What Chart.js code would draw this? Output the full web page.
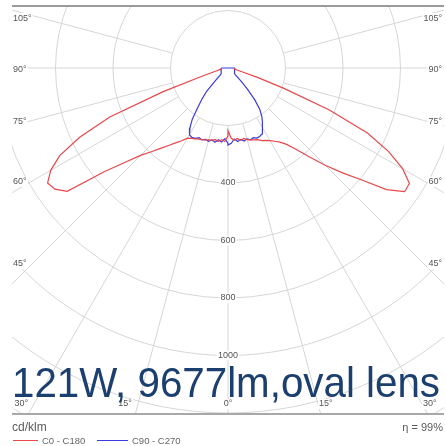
<!DOCTYPE html>
<html>
<head>
<meta charset="utf-8">
<script src="https://cdn.jsdelivr.net/npm/chart.js@4/dist/chart.umd.min.js"></script>
<style>
  html, body { margin: 0; padding: 0; background: #fff; }
  #wrap { width: 446px; height: 446px; position: relative; }
</style>
</head>
<body>
<div id="wrap"><canvas id="c" width="446" height="446"></canvas></div>
<script>
// Gamma angles in degrees from nadir at which the intensities are listed
const ANGLES = [0, 2.5, 5, 7.5, 10, 12.5, 15, 17.5, 20, 22.5, 25, 27.5, 30, 32.5, 35, 37.5, 40, 42.5, 45, 47.5,
                50, 52.5, 55, 57.5, 60, 62.5, 65, 67.5, 70, 72.5, 75, 77.5, 80, 82.5, 85, 87.5, 90];

// Luminous intensity, cd/klm, per C-plane
const C0   = [218, 244, 252, 247, 255, 251, 258, 262, 266, 270, 279, 284, 292, 302, 315, 335, 370, 420, 478, 540,
              605, 695, 750, 748, 702, 630, 535, 380, 205, 105, 50, 32, 27, 25, 24, 23, 22];
const C180 = [236, 256, 250, 258, 253, 257, 259, 262, 265, 268, 272, 276, 282, 300, 318, 340, 365, 395, 430, 485,
              560, 705, 735, 744, 712, 660, 568, 445, 240, 95, 50, 33, 28, 25, 24, 23, 22];
const C90  = [268, 262, 248, 258, 252, 260, 255, 262, 258, 264, 262, 258, 240, 222, 205, 182, 145, 100, 62, 35,
              30, 29, 28, 27, 27, 26, 26, 25, 25, 24, 24, 23, 23, 22, 22, 21, 21];
const C270 = [262, 246, 258, 252, 262, 256, 264, 260, 266, 262, 270, 272, 268, 246, 216, 172, 140, 110, 62, 36,
              31, 30, 29, 28, 27, 27, 26, 26, 25, 25, 25, 24, 24, 24, 24, 24, 24];

// Polar grid: rings (cd/klm) and spokes (degrees from nadir)
const RINGS = [200, 400, 600, 800, 1000, 1200, 1400];
const RING_TICKS = [400, 600, 800, 1000];
const SPOKES = [-105, -90, -75, -60, -45, -30, -15, 0, 15, 30, 45, 60, 75, 90, 105];

const TITLE = '121W, 9677lm,oval lens';
const UNIT = 'cd/klm';
const EFFICIENCY = 'η = 99%';
const SERIES = ['C0 - C180', 'C90 - C270'];

// Layout of the diagram on the 446 x 446 canvas
const W = 446, H = 446;
const POLE_X = 228, POLE_Y = 68;      // pixel position of the light source
const PX_PER_CD = 0.2875;
const FRAME = { left: 12, right: 444, top: 6, bottom: 414 };
const RED = '#e8484b', BLUE = '#3b3be0';
const LABEL_FONT = '9px "Liberation Sans", Arial, sans-serif';

const rad = d => d * Math.PI / 180;
// polar (gamma, intensity) -> cartesian data point, nadir pointing down
const toPoint = (g, v) => ({ x: v * Math.sin(rad(g)), y: -v * Math.cos(rad(g)) });

function planeCurve(right, left, close) {
  const pts = [];
  for (let i = ANGLES.length - 1; i >= 0; i--) pts.push(toPoint(-ANGLES[i], left[i]));
  for (let i = 0; i < ANGLES.length; i++) pts.push(toPoint(ANGLES[i], right[i]));
  if (close) pts.push(pts[0]);
  return pts;
}

const polarGrid = {
  id: 'polarGrid',
  beforeDatasetsDraw(chart) {
    const { ctx, scales: { x, y } } = chart;
    const cx = x.getPixelForValue(0), cy = y.getPixelForValue(0);
    const k = (x.getPixelForValue(1000) - cx) / 1000;
    ctx.save();
    ctx.beginPath();
    ctx.rect(FRAME.left, FRAME.top, FRAME.right - FRAME.left, FRAME.bottom - FRAME.top);
    ctx.clip();
    ctx.strokeStyle = '#d6d6d6';
    ctx.lineWidth = 1;
    RINGS.forEach(v => {
      ctx.beginPath();
      ctx.arc(cx, cy, v * k, 0, Math.PI * 2);
      ctx.stroke();
    });
    const r0 = RINGS[0] * k, r1 = 3000 * k;
    SPOKES.forEach(a => {
      const s = Math.sin(rad(a)), c = Math.cos(rad(a));
      ctx.beginPath();
      ctx.moveTo(cx + r0 * s, cy + r0 * c);
      ctx.lineTo(cx + r1 * s, cy + r1 * c);
      ctx.stroke();
    });
    ctx.restore();

    ctx.save();
    ctx.font = LABEL_FONT;
    ctx.textBaseline = 'middle';
    const boxed = (txt, px, py, align) => {
      ctx.textAlign = align;
      const w = ctx.measureText(txt).width;
      let lx = align === 'left' ? px : align === 'right' ? px - w : px - w / 2;
      ctx.fillStyle = '#fff';
      ctx.fillRect(lx - 1, py - 5, w + 2, 10);
      ctx.fillStyle = '#555';
      ctx.fillText(txt, px, py);
    };
    // ring values along the nadir spoke
    RING_TICKS.forEach(v => boxed(String(v), cx, cy + v * k, 'center'));
    // angle values round the frame
    SPOKES.forEach(a => {
      const g = Math.abs(a), s = Math.sin(rad(g)), c = Math.cos(rad(g));
      const txt = g + '°';
      if (g >= 45) {
        const r = (cx - 34) / s;
        const py = cy + r * c + 2;
        if (a < 0) boxed(txt, FRAME.left + 1, py, 'left');
        else boxed(txt, FRAME.right - 2, py, 'right');
      } else {
        const py = 404;
        const r = (py - cy) / c;
        const lx = cx + Math.sign(a) * r * s;
        if (a < 0) boxed(txt, Math.max(lx - 6, FRAME.left + 12), py, 'right');
        else if (a > 0) boxed(txt, Math.min(lx + 1, FRAME.right - 12), py, 'left');
        else boxed(txt, lx, py, 'center');
      }
    });
    ctx.restore();
  },
  afterDraw(chart) {
    const { ctx } = chart;
    ctx.save();
    // frame rules
    ctx.strokeStyle = '#7a7a7a';
    ctx.lineWidth = 1.5;
    ctx.beginPath(); ctx.moveTo(FRAME.left, FRAME.top); ctx.lineTo(FRAME.right, FRAME.top); ctx.stroke();
    ctx.strokeStyle = '#a8a8a8';
    ctx.lineWidth = 2;
    ctx.beginPath(); ctx.moveTo(FRAME.left, FRAME.bottom); ctx.lineTo(FRAME.right, FRAME.bottom); ctx.stroke();

    // lamp caption
    ctx.fillStyle = '#1b3f6f';
    ctx.font = '42px "Liberation Sans", Arial, sans-serif';
    ctx.textAlign = 'left';
    ctx.textBaseline = 'alphabetic';
    ctx.fillText(TITLE, 12, 397, 428);

    // unit and efficiency
    ctx.fillStyle = '#5a5a5a';
    ctx.font = '12px "Liberation Sans", Arial, sans-serif';
    ctx.textBaseline = 'middle';
    ctx.fillText(UNIT, 12, 428);
    ctx.textAlign = 'right';
    ctx.font = '11px "Liberation Sans", Arial, sans-serif';
    ctx.fillText(EFFICIENCY, 443, 428);

    // series key
    ctx.textAlign = 'left';
    ctx.font = '9.5px "Liberation Sans", Arial, sans-serif';
    const key = [[RED, 13, 38, 42], [BLUE, 97, 128, 132]];
    key.forEach(([col, x0, x1, tx], i) => {
      ctx.strokeStyle = col;
      ctx.lineWidth = 1;
      ctx.beginPath(); ctx.moveTo(x0, 440.5); ctx.lineTo(x1, 440.5); ctx.stroke();
      ctx.fillStyle = '#666';
      ctx.fillText(SERIES[i], tx, 441);
    });
    ctx.restore();
  }
};

const X_MIN = -POLE_X / PX_PER_CD, X_MAX = (W - POLE_X) / PX_PER_CD;
const Y_MAX = POLE_Y / PX_PER_CD, Y_MIN = -(H - POLE_Y) / PX_PER_CD;

new Chart(document.getElementById('c'), {
  type: 'scatter',
  data: {
    datasets: [
      { label: SERIES[0], data: planeCurve(C0, C180, false), showLine: true,
        borderColor: RED, borderWidth: 1.2, pointRadius: 0, fill: false },
      { label: SERIES[1], data: planeCurve(C90, C270, true), showLine: true,
        borderColor: BLUE, borderWidth: 1.2, pointRadius: 0, fill: false }
    ]
  },
  options: {
    responsive: false,
    animation: false,
    devicePixelRatio: 1,
    layout: { padding: 0 },
    plugins: { legend: { display: false }, tooltip: { enabled: false }, title: { display: false } },
    elements: { line: { tension: 0 } },
    scales: {
      x: { type: 'linear', display: false, min: X_MIN, max: X_MAX },
      y: { type: 'linear', display: false, min: Y_MIN, max: Y_MAX }
    }
  },
  plugins: [polarGrid]
});
</script>
</body>
</html>
